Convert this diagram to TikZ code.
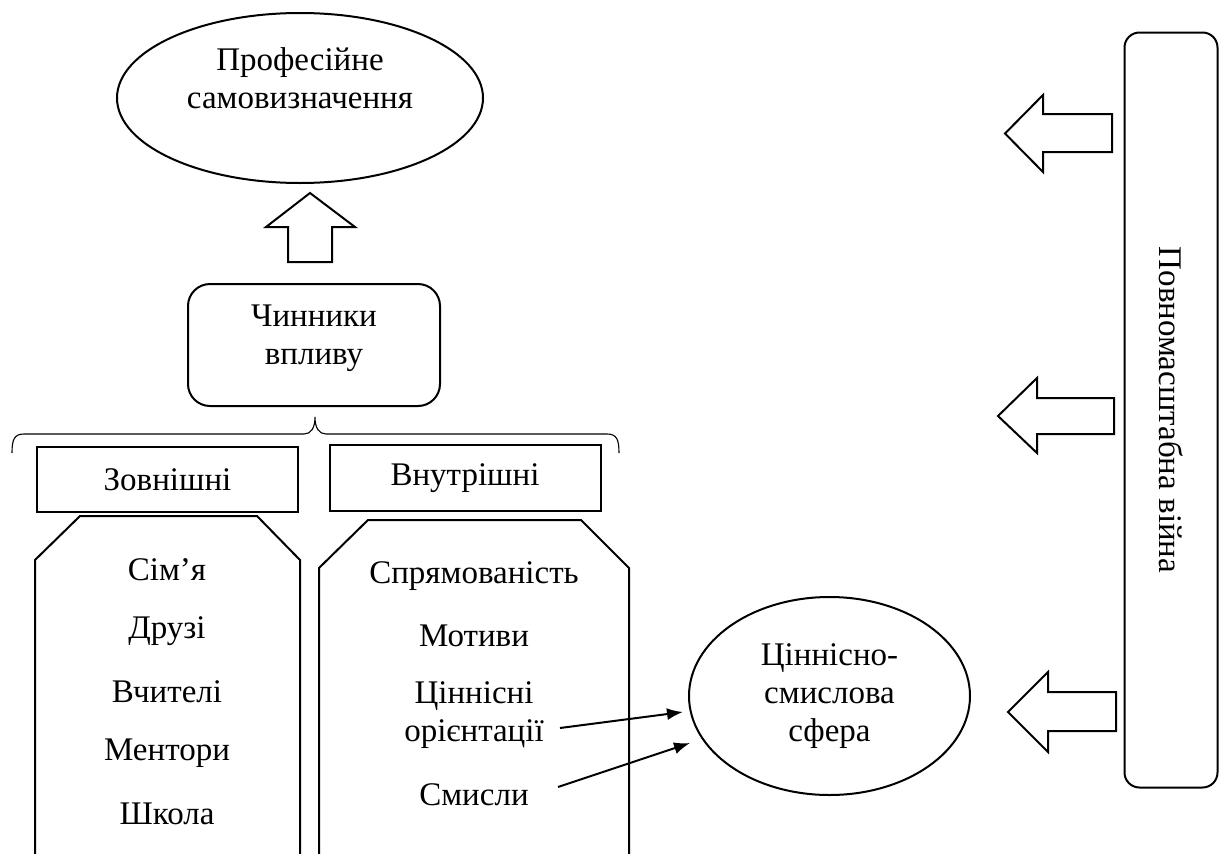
\documentclass[tikz,border=0pt]{standalone}
\usepackage{fontspec}
\setmainfont{Liberation Serif}
\usetikzlibrary{shapes.geometric,arrows.meta}
\begin{document}
\begin{tikzpicture}[x=1pt,y=-1pt,
  every node/.style={font=\fontsize{33}{38}\selectfont},
  ln/.style={line width=2pt, line join=miter},
  oval/.style={ln, draw, ellipse, inner sep=0pt, align=center},
  box/.style={ln, draw, rectangle, inner sep=0pt},
  rbox/.style={box, rounded corners=22pt, align=center},
  blockarrow/.style={ln, draw, fill=white},
  tablet/.style={ln, draw},
  item/.style={inner sep=0pt, align=center},
  link/.style={line width=2pt, -{Latex[length=16pt,width=12pt]}}
]
\useasboundingbox (0,0) rectangle (1221,854);

% top ellipse
\node[oval, minimum width=366pt, minimum height=170pt, text depth=40pt] (prof) at (300,98) {Професійне\\самовизначення};

% up block arrow
\draw[blockarrow] (288,262) -- (288,227) -- (266,227) -- (310,193) -- (355,227) -- (332,227) -- (332,262) -- cycle;

% factors box
\node[rbox, minimum width=252pt, minimum height=122pt, text depth=20pt] (chyn) at (314,345) {Чинники\\впливу};

% brace
\draw[line width=1.1pt] (12,453) .. controls (12,440) and (14,434) .. (24,434) -- (304,434)
  .. controls (311,434) and (315,428) .. (315,417)
  .. controls (315,428) and (319,434) .. (326,434) -- (607,434)
  .. controls (617,434) and (619,440) .. (619,453);

% category boxes
\node[box, minimum width=261pt, minimum height=65pt] (zovn) at (167.5,479.5) {Зовнішні};
\node[box, minimum width=271pt, minimum height=66pt] (vnut) at (465,478) {Внутрішні};

% tablets
\draw[tablet] (35,870) -- (35,560) -- (80,516) -- (257,516) -- (300,560) -- (300,870);
\draw[tablet] (319,870) -- (319,568) -- (368,520) -- (581,520) -- (629,568) -- (629,870);

% external items
\node[item] (i1) at (167,570) {Сім’я};
\node[item] (i2) at (167,631) {Друзі};
\node[item] (i3) at (167,692) {Вчителі};
\node[item] (i4) at (167,753) {Ментори};
\node[item] (i5) at (167,814) {Школа};

% internal items
\node[item] (j1) at (474,576) {Спрямованість};
\node[item] (j2) at (474,636) {Мотиви};
\node[item, text depth=0pt] (j3) at (474,712) {Ціннісні\\орієнтації};
\node[item] (j4) at (474,795) {Смисли};

% value sphere
\node[oval, minimum width=281pt, minimum height=198pt] (cs) at (829.5,696) {Ціннісно-\\смислова\\сфера};

\coordinate (a1s) at (560,728);
\coordinate (a1e) at (683,712);
\coordinate (a2s) at (558,787);
\coordinate (a2e) at (690,743);
\draw[link] (a1s) -- (a1e);
\draw[link] (a2s) -- (a2e);

% war box
\node[box, rounded corners=15pt, minimum width=755pt, minimum height=93pt, rotate=-90] (war) at (1171,410) {Повномасштабна війна};

% left block arrows
\draw[blockarrow] (1112,114) -- (1043,114) -- (1043,95) -- (1005,133.5) -- (1043,172) -- (1043,152) -- (1112,152) -- cycle;
\draw[blockarrow] (1114,398) -- (1037,398) -- (1037,378) -- (998,416) -- (1037,453) -- (1037,434) -- (1114,434) -- cycle;
\draw[blockarrow] (1116,692) -- (1048,692) -- (1048,672) -- (1008,712) -- (1048,752) -- (1048,731) -- (1116,731) -- cycle;
\end{tikzpicture}
\end{document}
